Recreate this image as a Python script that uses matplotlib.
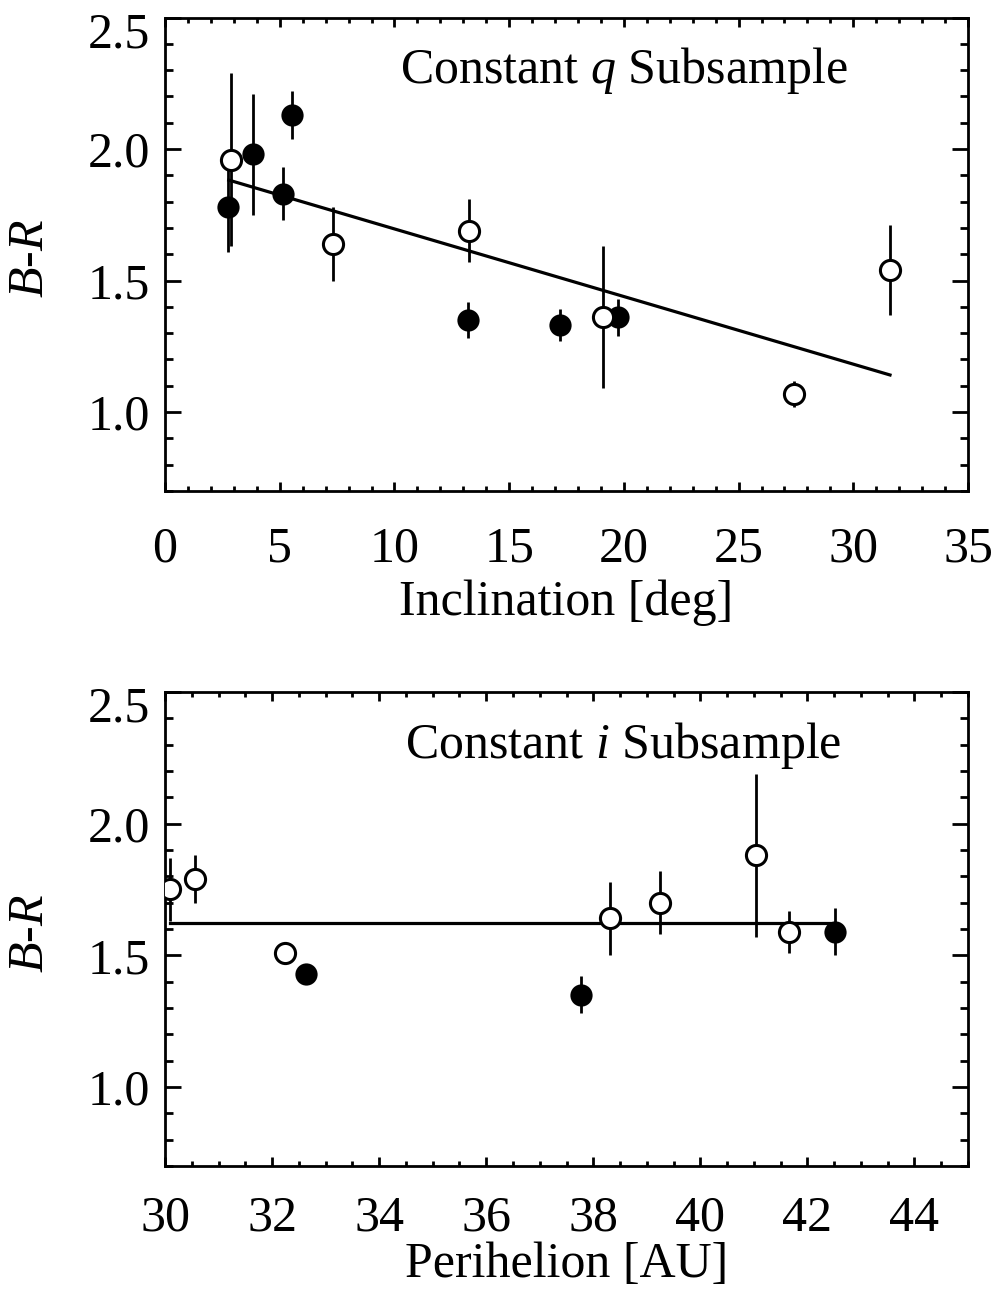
import matplotlib
matplotlib.use('Agg')
import matplotlib.pyplot as plt
import matplotlib.transforms as mtransforms
from matplotlib.ticker import MultipleLocator

plt.rcParams['font.family'] = ['Liberation Serif', 'DejaVu Serif']
plt.rcParams['mathtext.fontset'] = 'custom'
plt.rcParams['mathtext.rm'] = 'Liberation Serif'
plt.rcParams['mathtext.it'] = 'Liberation Serif:italic'

# constant q subsample: B-R vs inclination
inc_fill = [2.73, 3.82, 5.13, 5.55, 13.22, 17.22, 19.73]
br_inc_fill = [1.78, 1.98, 1.83, 2.13, 1.35, 1.33, 1.36]
err_inc_fill = [0.17, 0.23, 0.10, 0.09, 0.07, 0.06, 0.07]

inc_open = [2.88, 7.32, 13.24, 19.10, 27.43, 31.62]
br_inc_open = [1.96, 1.64, 1.69, 1.36, 1.07, 1.54]
err_inc_open = [0.33, 0.14, 0.12, 0.27, 0.05, 0.17]

fit_inc_x = [2.78, 31.6]
fit_inc_y = [1.882, 1.141]

# constant i subsample: B-R vs perihelion
q_fill = [32.63, 37.77, 42.52]
br_q_fill = [1.43, 1.35, 1.59]
err_q_fill = [0.0, 0.07, 0.09]

q_open = [30.09, 30.56, 32.25, 38.31, 39.24, 41.04, 41.65]
br_q_open = [1.75, 1.79, 1.51, 1.64, 1.70, 1.88, 1.59]
err_q_open = [0.12, 0.09, 0.0, 0.14, 0.12, 0.31, 0.08]

fit_q_x = [30.09, 42.52]
fit_q_y = [1.623, 1.623]

fig = plt.figure(figsize=(9.96, 12.91), dpi=100)
ax1 = fig.add_axes([0.1657, 0.6197, 0.8062, 0.3667])
ax2 = fig.add_axes([0.1657, 0.0968, 0.8062, 0.3672])

FS = 36


def panel(ax, xf, yf, ef, xo, yo, eo, fx, fy):
    ax.plot(fx, fy, color='black', lw=2.3, zorder=2)
    ax.errorbar(xf, yf, yerr=ef, fmt='none', ecolor='black', elinewidth=2, capsize=0, zorder=3)
    ax.errorbar(xo, yo, yerr=eo, fmt='none', ecolor='black', elinewidth=2, capsize=0, zorder=3)
    ax.plot(xf, yf, 'o', ms=14.5, mfc='black', mec='black', mew=1.5, ls='none', zorder=4)
    ax.plot(xo, yo, 'o', ms=14.5, mfc='white', mec='black', mew=2.2, ls='none', zorder=4)
    ax.set_ylim(0.7, 2.5)
    ax.yaxis.set_major_locator(MultipleLocator(0.5))
    ax.yaxis.set_minor_locator(MultipleLocator(0.1))
    ax.set_yticks([1.0, 1.5, 2.0, 2.5])
    ax.set_yticklabels(['1.0', '1.5', '2.0', '2.5'])
    ax.tick_params(axis='both', which='both', direction='in', top=True, right=True,
                   width=2, labelsize=FS)
    ax.tick_params(axis='x', which='major', length=6.5, pad=25)
    ax.tick_params(axis='x', which='minor', length=3.3)
    ax.tick_params(axis='y', which='major', length=11.5, pad=11)
    ax.tick_params(axis='y', which='minor', length=5.8)
    for s in ax.spines.values():
        s.set_linewidth(2)
    # top label sits a little lower, as in the original
    lab = ax.get_yticklabels()[-1]
    lab.set_transform(lab.get_transform() +
                      mtransforms.ScaledTranslation(0, -12 / 100, fig.dpi_scale_trans))
    ax.text(-0.167, 0.49, '$B$-$R$', transform=ax.transAxes, rotation=90,
            fontsize=FS, ha='center', va='center')


panel(ax1, inc_fill, br_inc_fill, err_inc_fill, inc_open, br_inc_open, err_inc_open,
      fit_inc_x, fit_inc_y)
ax1.set_xlim(0, 35)
ax1.xaxis.set_major_locator(MultipleLocator(5))
ax1.xaxis.set_minor_locator(MultipleLocator(1))
ax1.set_xlabel('Inclination [deg]', fontsize=FS, labelpad=5)
ax1.text(0.571, 0.889, 'Constant $q$ Subsample', transform=ax1.transAxes,
         fontsize=FS, ha='center', va='center')

panel(ax2, q_fill, br_q_fill, err_q_fill, q_open, br_q_open, err_q_open,
      fit_q_x, fit_q_y)
ax2.set_xlim(30, 45)
ax2.xaxis.set_major_locator(MultipleLocator(2))
ax2.xaxis.set_minor_locator(MultipleLocator(0.5))
ax2.tick_params(axis='x', which='major', pad=21)
ax2.set_xlabel('Perihelion [AU]', fontsize=FS, labelpad=0)
ax2.text(0.570, 0.888, 'Constant $i$ Subsample', transform=ax2.transAxes,
         fontsize=FS, ha='center', va='center')

fig.savefig('out.png', dpi=100)
